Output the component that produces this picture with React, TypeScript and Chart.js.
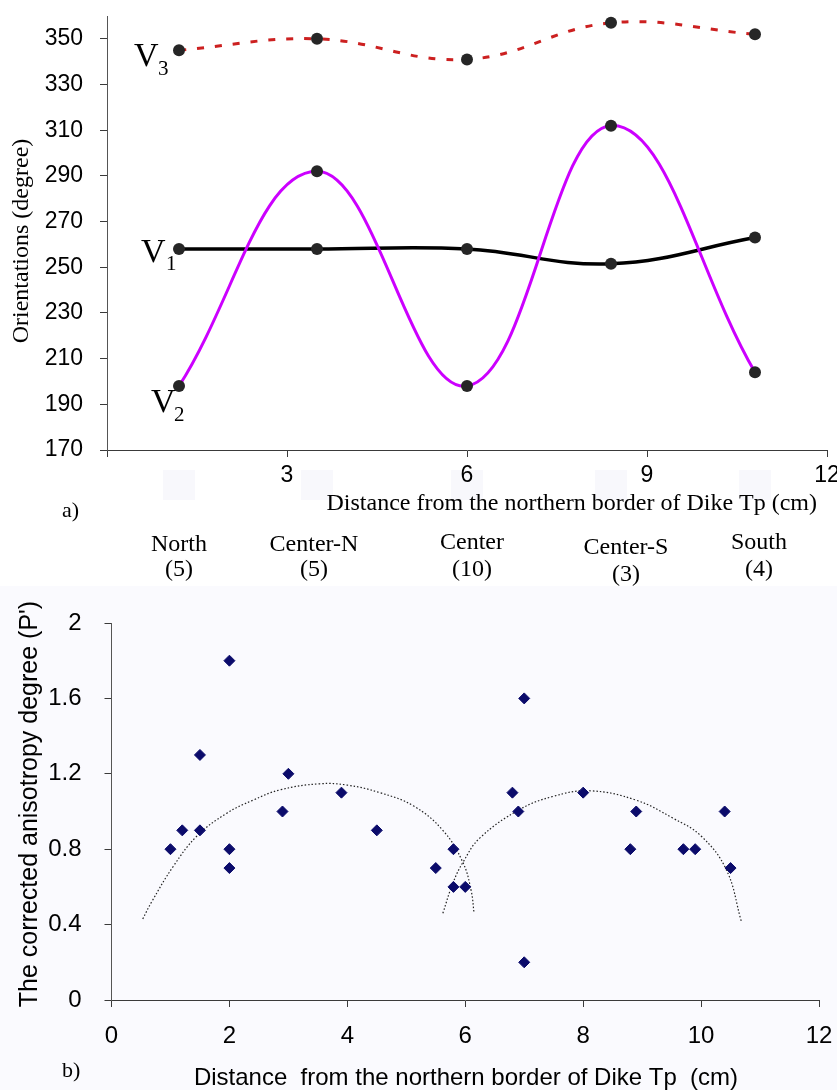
import React, { useEffect, useRef } from "react";
import { Chart, registerables } from "chart.js";

Chart.register(...registerables);

// ---------- Data: panel a) ----------
const positionsCm = [1.2, 3.5, 6.0, 8.4, 10.8];
const v1Values = [258, 258, 258, 251.5, 263];
const v2Values = [198, 292, 198, 312, 204];
const v3Values = [345, 350, 341, 357, 352];
const orientationTicks = [170, 190, 210, 230, 250, 270, 290, 310, 330, 350];
const zoneNames = ["North", "Center-N", "Center", "Center-S", "South"];
const zoneCounts = ["(5)", "(5)", "(10)", "(3)", "(4)"];

// ---------- Data: panel b) ----------
const pDistance = [1.0, 1.2, 1.5, 1.5, 2.0, 2.0, 2.0, 2.9, 3.0, 3.9, 4.5, 5.5, 5.8, 5.8, 6.0, 6.8, 6.9, 7.0, 7.0, 8.0, 8.8, 8.9, 9.7, 9.9, 10.4, 10.5];
const pValues = [0.8, 0.9, 0.9, 1.3, 1.8, 0.8, 0.7, 1.0, 1.2, 1.1, 0.9, 0.7, 0.8, 0.6, 0.6, 1.1, 1.0, 1.6, 0.2, 1.1, 0.8, 1.0, 0.8, 0.8, 1.0, 0.7];
const trendLeftX = [0.53, 0.68, 1.05, 1.45, 1.95, 2.4, 2.86, 3.53, 4.0, 4.55, 5.12, 5.62, 5.96, 6.1, 6.15];
const trendLeftY = [0.43, 0.52, 0.71, 0.87, 0.99, 1.06, 1.115, 1.147, 1.14, 1.1, 1.03, 0.9, 0.73, 0.58, 0.46];
const trendRightX = [5.62, 5.79, 5.96, 6.25, 6.92, 7.49, 8.11, 8.9, 9.52, 10.0, 10.43, 10.68];
const trendRightY = [0.46, 0.62, 0.73, 0.86, 1.01, 1.08, 1.11, 1.06, 0.965, 0.87, 0.69, 0.42];

const SERIF = '"Liberation Serif", "Times New Roman", serif';
const SANS = '"Liberation Sans", Arial, sans-serif';

function txt(ctx: CanvasRenderingContext2D, s: string, x: number, y: number, font: string, align: CanvasTextAlign = "left", baseline: CanvasTextBaseline = "alphabetic") {
  ctx.save();
  ctx.font = font;
  ctx.fillStyle = "#000";
  ctx.textAlign = align;
  ctx.textBaseline = baseline;
  ctx.fillText(s, x, y);
  ctx.restore();
}

function rotTxt(ctx: CanvasRenderingContext2D, s: string, x: number, y: number, font: string) {
  ctx.save();
  ctx.translate(x, y);
  ctx.rotate(-Math.PI / 2);
  ctx.font = font;
  ctx.fillStyle = "#000";
  ctx.textAlign = "center";
  ctx.textBaseline = "middle";
  ctx.fillText(s, 0, 0);
  ctx.restore();
}

const topDecor = {
  id: "topDecor",
  beforeDraw(chart: any) {
    const ctx = chart.ctx as CanvasRenderingContext2D;
    const xs = chart.scales.x;
    ctx.save();
    ctx.fillStyle = "#f8f8fc";
    positionsCm.forEach((p) => {
      const px = xs.getPixelForValue(p);
      ctx.fillRect(px - 16, 470, 32, 30);
    });
    ctx.restore();
  },
  afterDraw(chart: any) {
    const ctx = chart.ctx as CanvasRenderingContext2D;
    const xs = chart.scales.x;
    const ys = chart.scales.y;
    const px0 = xs.getPixelForValue(positionsCm[0]);
    const big = `34px ${SERIF}`;
    const sub = `21px ${SERIF}`;
    // V3
    let py = ys.getPixelForValue(v3Values[0]);
    txt(ctx, "V", px0 - 45, py + 16, big);
    txt(ctx, "3", px0 - 21, py + 25, sub);
    // V1
    py = ys.getPixelForValue(v1Values[0]);
    txt(ctx, "V", px0 - 38, py + 13, big);
    txt(ctx, "1", px0 - 13, py + 21, sub);
    // V2
    py = ys.getPixelForValue(v2Values[0]);
    txt(ctx, "V", px0 - 28, py + 26, big);
    txt(ctx, "2", px0 - 5, py + 35, sub);

    rotTxt(ctx, "Orientations (degree)", 22, 241, `24px ${SERIF}`);
    txt(ctx, "Distance from the northern border of Dike Tp (cm)", 817, 510, `24px ${SERIF}`, "right");
    txt(ctx, "a)", 62, 517, `22px ${SERIF}`);

    const adj = [0, -3, 5, 15, 4];
    const nameBase = [551, 551, 549, 554, 549];
    const countBase = [576, 576, 576, 581, 576];
    zoneNames.forEach((n, i) => {
      const cx = xs.getPixelForValue(positionsCm[i]) + adj[i];
      txt(ctx, n, cx, nameBase[i], `24px ${SERIF}`, "center");
      txt(ctx, zoneCounts[i], cx, countBase[i], `24px ${SERIF}`, "center");
    });
  },
};

const botDecor = {
  id: "botDecor",
  afterDraw(chart: any) {
    const ctx = chart.ctx as CanvasRenderingContext2D;
    rotTxt(ctx, "The corrected anisotropy degree (P')", 30, 218, `25px ${SANS}`);
    txt(ctx, "Distance  from the northern border of Dike Tp  (cm)", 466, 499, `24px ${SANS}`, "center");
    txt(ctx, "b)", 62, 491, `22px ${SERIF}`);
  },
};

export default function App() {
  const topRef = useRef<HTMLCanvasElement>(null);
  const botRef = useRef<HTMLCanvasElement>(null);

  useEffect(() => {
    document.body.style.margin = "0";
    const axisColor = "#3a3a3a";
    const pts = (xs: number[], ys: number[]) => xs.map((x, i) => ({ x, y: ys[i] }));

    const top = new Chart(topRef.current!, {
      type: "scatter",
      data: {
        datasets: [
          {
            label: "V2",
            data: pts(positionsCm, v2Values),
            showLine: true,
            borderColor: "#cc00ff",
            borderWidth: 3,
            tension: 0.4,
            pointRadius: 6,
            pointBackgroundColor: "#262626",
            pointBorderWidth: 0,
          },
          {
            label: "V1",
            data: pts(positionsCm, v1Values),
            showLine: true,
            borderColor: "#000000",
            borderWidth: 3.5,
            tension: 0.4,
            pointRadius: 6,
            pointBackgroundColor: "#262626",
            pointBorderWidth: 0,
          },
          {
            label: "V3",
            data: pts(positionsCm, v3Values),
            showLine: true,
            borderColor: "#cc2020",
            borderWidth: 3,
            borderDash: [7, 11],
            tension: 0.4,
            pointRadius: 6,
            pointBackgroundColor: "#262626",
            pointBorderWidth: 0,
          },
        ],
      },
      options: {
        animation: false,
        responsive: false,
        devicePixelRatio: 1,
        layout: { padding: { top: 16, right: 10, left: 0, bottom: 0 } },
        plugins: { legend: { display: false }, tooltip: { enabled: false } },
        scales: {
          x: {
            type: "linear",
            min: 0,
            max: 12,
            ticks: {
              stepSize: 3,
              autoSkip: false,
              maxRotation: 0,
              padding: 5,
              color: "#000",
              font: { family: SANS, size: 23 },
              callback: (v: any) => (v === 0 ? "" : String(v)),
            },
            grid: { drawOnChartArea: false, tickLength: 7, tickColor: axisColor },
            border: { color: axisColor, width: 1 },
            afterFit: (s: any) => {
              s.height = 136;
              s.paddingLeft = 0;
              s.paddingRight = 0;
            },
          },
          y: {
            type: "linear",
            min: 170,
            max: 360,
            afterBuildTicks: (s: any) => {
              s.ticks = orientationTicks.map((v) => ({ value: v }));
            },
            ticks: {
              padding: 17,
              color: "#000",
              font: { family: SANS, size: 23 },
            },
            grid: { drawOnChartArea: false, tickLength: 7, tickColor: axisColor },
            border: { color: "#555", width: 1 },
            afterFit: (s: any) => {
              s.width = 107;
              s.paddingTop = 0;
              s.paddingBottom = 0;
            },
          },
        },
      } as any,
      plugins: [topDecor],
    });

    const bot = new Chart(botRef.current!, {
      type: "scatter",
      data: {
        datasets: [
          {
            label: "P'",
            data: pts(pDistance, pValues),
            pointStyle: "rectRot",
            pointRadius: 5.5,
            pointBackgroundColor: "#0b0b6b",
            pointBorderColor: "#0b0b6b",
            pointBorderWidth: 1,
          },
          {
            label: "trend north",
            data: pts(trendLeftX, trendLeftY),
            showLine: true,
            borderColor: "#222",
            borderWidth: 1.2,
            borderDash: [1.5, 2],
            tension: 0.4,
            pointRadius: 0,
          },
          {
            label: "trend south",
            data: pts(trendRightX, trendRightY),
            showLine: true,
            borderColor: "#222",
            borderWidth: 1.2,
            borderDash: [1.5, 2],
            tension: 0.4,
            pointRadius: 0,
          },
        ],
      },
      options: {
        animation: false,
        responsive: false,
        devicePixelRatio: 1,
        layout: { padding: { top: 37, right: 18, left: 0, bottom: 0 } },
        plugins: { legend: { display: false }, tooltip: { enabled: false } },
        scales: {
          x: {
            type: "linear",
            min: 0,
            max: 12,
            ticks: {
              stepSize: 2,
              autoSkip: false,
              maxRotation: 0,
              padding: 15,
              color: "#000",
              font: { family: SANS, size: 24 },
            },
            grid: { drawOnChartArea: false, tickLength: 7, tickColor: axisColor },
            border: { color: axisColor, width: 1 },
            afterFit: (s: any) => {
              s.height = 90;
              s.paddingLeft = 0;
              s.paddingRight = 0;
            },
          },
          y: {
            type: "linear",
            min: 0,
            max: 2,
            ticks: {
              stepSize: 0.4,
              padding: 23,
              color: "#000",
              font: { family: SANS, size: 24 },
              callback: (v: any) => String(Math.round(Number(v) * 10) / 10),
            },
            grid: { drawOnChartArea: false, tickLength: 7, tickColor: axisColor },
            border: { color: "#555", width: 1 },
            afterFit: (s: any) => {
              s.width = 111.5;
              s.paddingTop = 0;
              s.paddingBottom = 0;
            },
          },
        },
      } as any,
      plugins: [botDecor],
    });

    return () => {
      top.destroy();
      bot.destroy();
    };
  }, []);

  return (
    <div style={{ position: "absolute", left: 0, top: 0, width: 837, height: 1090, background: "#ffffff" }}>
      <canvas ref={topRef} width={837} height={586} style={{ display: "block", width: 837, height: 586 }} />
      <div style={{ background: "#fafafe", width: 837, height: 504 }}>
        <canvas ref={botRef} width={837} height={504} style={{ display: "block", width: 837, height: 504 }} />
      </div>
    </div>
  );
}
